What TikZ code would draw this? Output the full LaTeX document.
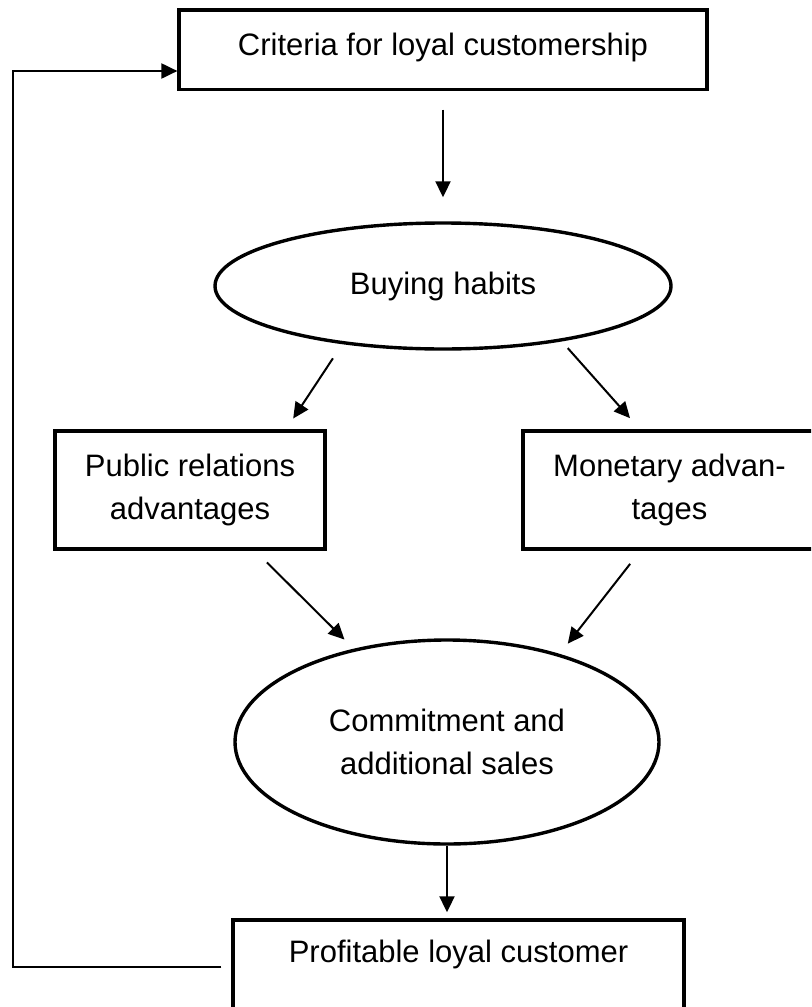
\documentclass[tikz,border=0pt]{standalone}
\usepackage{fontspec}
\setmainfont{Liberation Sans}
\usetikzlibrary{arrows.meta,shapes.geometric}

\begin{document}
\begin{tikzpicture}[x=0.5pt,y=-0.5pt,
  font=\fontsize{15.5}{21.5}\selectfont,
  box/.style={draw,line width=1.6pt,rectangle,align=center,inner xsep=0pt},
  oval/.style={draw,line width=1.7pt,ellipse,align=center,inner sep=0pt},
  arr/.style={line width=1pt,-{Triangle[length=8pt,width=7.5pt]}}]
\useasboundingbox (0,0) rectangle (811,1007);
\clip (0,0) rectangle (811,1007);
\node[box,minimum width=264pt,text height=11.1pt,text depth=5.5pt,inner ysep=11.5pt] (crit) at (443,49.5) {Criteria for loyal customership};
\node[oval,minimum width=228pt,minimum height=63pt] (buying) at (443,286) {Buying habits};
\node[box,minimum width=135pt,minimum height=59pt] (pr) at (190,490) {Public relations\\advantages};
\node[box,minimum width=146.5pt,minimum height=59pt] (mon) at (669.5,490) {Monetary advan-\\tages};
\node[oval,minimum width=212pt,minimum height=102pt] (commit) at (447,742) {Commitment and\\additional sales};
\node[box,minimum width=225.5pt,text height=11.1pt,text depth=16pt,inner ysep=10pt] (profit) at (458.5,967) {Profitable loyal customer};
\coordinate (loop) at (13,500);
\draw[arr,shorten <=9.5pt,shorten >=12pt] (crit.south) -- (crit.south |- buying.north);
\draw[arr,shorten <=8.5pt,shorten >=6.5pt] (buying.210) -- ([xshift=48pt]pr.north);
\draw[arr,shorten <=4.5pt,shorten >=7.5pt] (buying.335) -- ([xshift=-14.75pt]mon.north);
\draw[arr,shorten <=8.4pt,shorten >=6.5pt] ([xshift=32.5pt]pr.south) -- (commit.135);
\draw[arr,shorten <=8.4pt,shorten >=6.5pt] ([xshift=-14.5pt]mon.south) -- (commit.38);
\draw[arr,shorten >=3pt] (commit.south) -- (commit.south |- profit.north);
\draw[arr] ([xshift=-5pt]profit.west) -| (loop) |- ([yshift=-10.75pt]crit.west);
\end{tikzpicture}
\end{document}
